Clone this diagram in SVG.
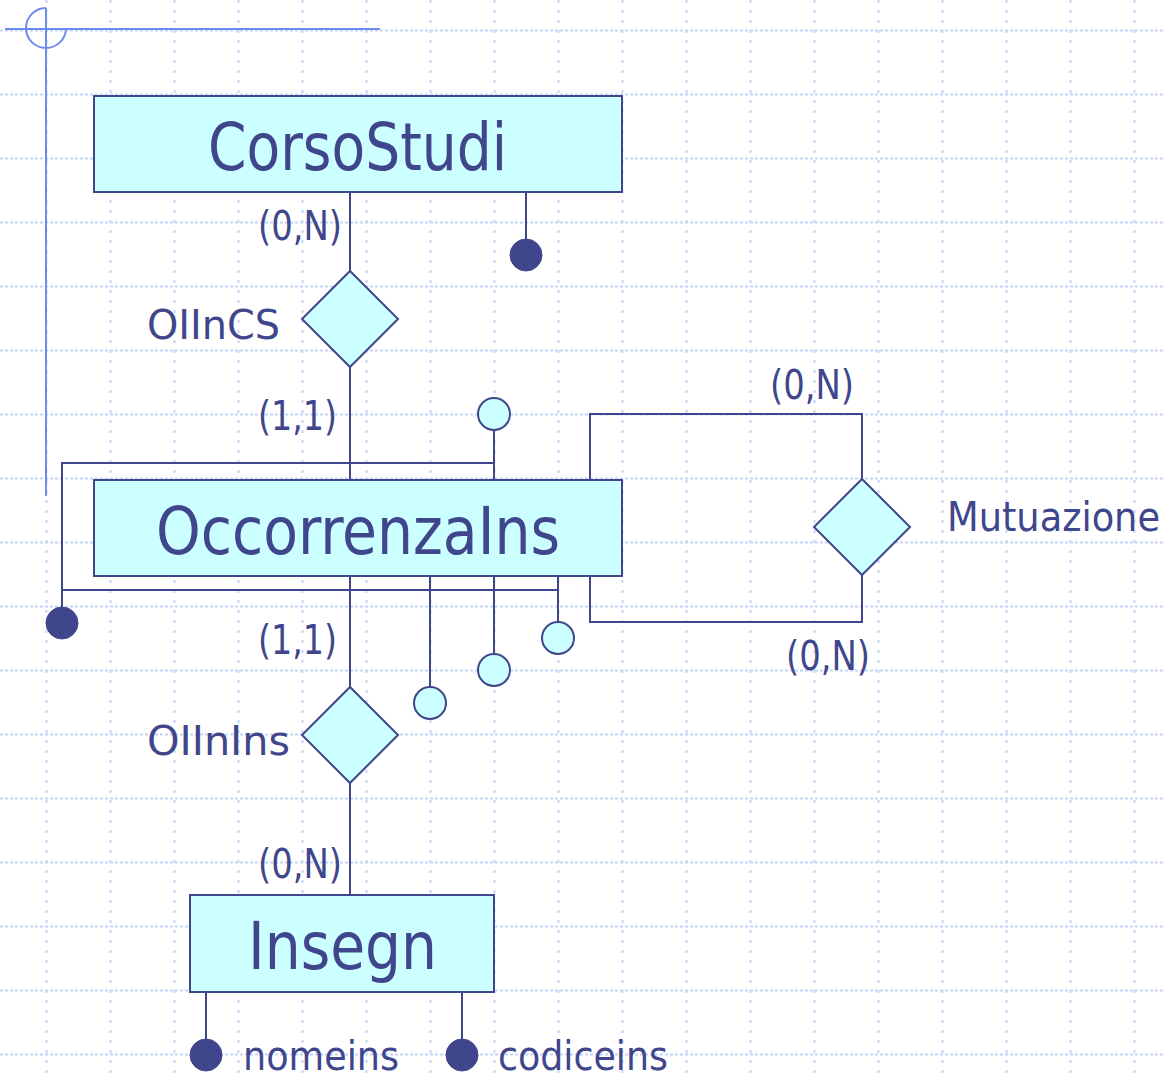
<svg xmlns="http://www.w3.org/2000/svg" width="1164" height="1078" viewBox="0 0 1164 1078">
<style>
.gh{stroke:#c6d3f8;stroke-width:2;stroke-dasharray:3 2;fill:none}
.gv{stroke:#c6d3f8;stroke-width:2;stroke-dasharray:3 7;fill:none}
.deco{stroke:#6e8bef;stroke-width:2;fill:none}
.ln{stroke:#40468c;stroke-width:2;fill:none}
.ent{fill:#ccffff;stroke:#40468c;stroke-width:2}
.rel{fill:#ccffff;stroke:#40468c;stroke-width:2}
.attr{fill:#ccffff;stroke:#40468c;stroke-width:2}
.key{fill:#40468c;stroke:#40468c;stroke-width:1}
text{fill:#40468c;font-family:'DejaVu Sans Condensed','DejaVu Sans',sans-serif;font-stretch:condensed}
.big{font-size:65px}
.lbl{font-size:40px}
</style>
<rect width="1164" height="1078" fill="#ffffff"/>
<g id="grid">
<path class="gh" d="M0,30.5H1164M0,94.5H1164M0,158.5H1164M0,222.5H1164M0,286.5H1164M0,350.5H1164M0,414.5H1164M0,478.5H1164M0,542.5H1164M0,606.5H1164M0,670.5H1164M0,734.5H1164M0,798.5H1164M0,862.5H1164M0,926.5H1164M0,990.5H1164M0,1054.5H1164"/>
<path class="gv" d="M46.5,0V1078M110.5,0V1078M174.5,0V1078M238.5,0V1078M302.5,0V1078M366.5,0V1078M430.5,0V1078M494.5,0V1078M558.5,0V1078M622.5,0V1078M686.5,0V1078M750.5,0V1078M814.5,0V1078M878.5,0V1078M942.5,0V1078M1006.5,0V1078M1070.5,0V1078M1134.5,0V1078"/>
</g>
<g id="decoration">
<path class="deco" d="M5,29H380M46,8V496"/>
<path class="deco" d="M46,8A20,20 0 1,0 66,28"/>
</g>
<g id="connectors">
<path class="ln" d="M350,192V271M350,367V480M350,576V687M350,783V895"/>
<path class="ln" d="M526,192V240"/>
<path class="ln" d="M590,480V414H862V479M590,576V622H862V575"/>
<path class="ln" d="M494,430V480M494,463H62V607M62,590H558V622"/>
<path class="ln" d="M558,576V590M430,576V687M494,576V654"/>
<path class="ln" d="M206,992V1040M462,992V1040"/>
</g>
<g id="CorsoStudi">
<rect class="ent" x="94" y="96" width="528" height="96"/>
<text class="big" x="208" y="170" textLength="299" lengthAdjust="spacingAndGlyphs">CorsoStudi</text>
</g>
<g id="CorsoStudi_id">
<circle class="key" cx="526" cy="255" r="16"/>
</g>
<g id="OIInCS">
<polygon class="rel" points="350,271 398,319 350,367 302,319"/>
<text class="lbl" x="147" y="339" textLength="133" lengthAdjust="spacingAndGlyphs">OIInCS</text>
</g>
<g id="OccorrenzaIns">
<rect class="ent" x="94" y="480" width="528" height="96"/>
<text class="big" x="156" y="554" textLength="404" lengthAdjust="spacingAndGlyphs">OccorrenzaIns</text>
</g>
<g id="OccorrenzaIns_attrs">
<circle class="attr" cx="494" cy="414" r="16"/>
<circle class="attr" cx="558" cy="638" r="16"/>
<circle class="attr" cx="494" cy="670" r="16"/>
<circle class="attr" cx="430" cy="703" r="16"/>
<circle class="key" cx="62" cy="623" r="16"/>
</g>
<g id="Mutuazione">
<polygon class="rel" points="862,479 910,527 862,575 814,527"/>
<text class="lbl" x="947" y="531" textLength="213" lengthAdjust="spacingAndGlyphs">Mutuazione</text>
</g>
<g id="OIInIns">
<polygon class="rel" points="350,687 398,735 350,783 302,735"/>
<text class="lbl" x="147" y="755" textLength="143" lengthAdjust="spacingAndGlyphs">OIInIns</text>
</g>
<g id="Insegn">
<rect class="ent" x="190" y="895" width="304" height="97"/>
<text class="big" x="248" y="969" textLength="189" lengthAdjust="spacingAndGlyphs">Insegn</text>
</g>
<g id="Insegn_attrs">
<circle class="key" cx="206" cy="1055" r="16"/>
<text class="lbl" x="243" y="1070" textLength="156" lengthAdjust="spacingAndGlyphs">nomeins</text>
<circle class="key" cx="462" cy="1055" r="16"/>
<text class="lbl" x="498" y="1070" textLength="170" lengthAdjust="spacingAndGlyphs">codiceins</text>
</g>
<g id="cardinalities">
<text class="lbl" x="258" y="240" textLength="84" lengthAdjust="spacingAndGlyphs">(0,N)</text>
<text class="lbl" x="258" y="430" textLength="79" lengthAdjust="spacingAndGlyphs">(1,1)</text>
<text class="lbl" x="770" y="399" textLength="84" lengthAdjust="spacingAndGlyphs">(0,N)</text>
<text class="lbl" x="786" y="670" textLength="84" lengthAdjust="spacingAndGlyphs">(0,N)</text>
<text class="lbl" x="258" y="654" textLength="79" lengthAdjust="spacingAndGlyphs">(1,1)</text>
<text class="lbl" x="258" y="878" textLength="84" lengthAdjust="spacingAndGlyphs">(0,N)</text>
</g>
</svg>
